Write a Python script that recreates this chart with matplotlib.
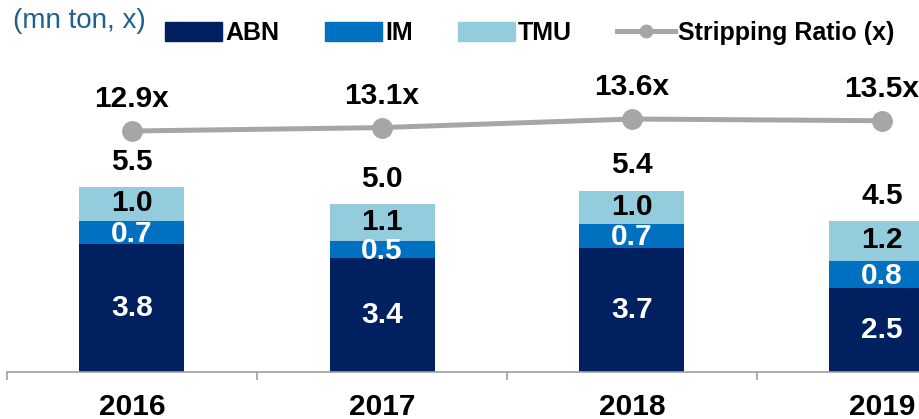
import numpy as np
import matplotlib.pyplot as plt
from matplotlib.lines import Line2D
from matplotlib.patches import Patch

plt.rcParams['font.family'] = ['Liberation Sans', 'DejaVu Sans']

years = ['2016', '2017', '2018', '2019']
abn = [3.8, 3.4, 3.7, 2.5]
im = [0.7, 0.5, 0.7, 0.8]
tmu = [1.0, 1.1, 1.0, 1.2]
totals = [5.5, 5.0, 5.4, 4.5]
strip_ratio = [12.9, 13.1, 13.6, 13.5]

c_abn = '#002060'
c_im = '#0070C0'
c_tmu = '#93CDDD'
c_line = '#A6A6A6'
fs = 21.5

W, H = 920, 419
fig = plt.figure(figsize=(W / 100, H / 100), dpi=100)
ax = fig.add_axes([7 / W, 47 / H, 913 / W, 332 / H])
x = np.arange(len(years))
bw = 0.42

ax.bar(x, abn, bw, color=c_abn, label='ABN', zorder=2)
ax.bar(x, im, bw, bottom=abn, color=c_im, label='IM', zorder=2)
bot2 = np.array(abn) + np.array(im)
ax.bar(x, tmu, bw, bottom=bot2, color=c_tmu, label='TMU', zorder=2)

for i in range(len(years)):
    ax.text(x[i], abn[i] / 2, f'{abn[i]:.1f}', ha='center', va='center',
            color='white', fontsize=fs, fontweight='bold')
    ax.text(x[i], abn[i] + im[i] / 2 - 0.04, f'{im[i]:.1f}', ha='center', va='center',
            color='white', fontsize=fs, fontweight='bold')
    ax.text(x[i], bot2[i] + tmu[i] / 2 + 0.02, f'{tmu[i]:.1f}', ha='center', va='center',
            color='black', fontsize=fs, fontweight='bold')
    ax.text(x[i], totals[i] + 0.75, f'{totals[i]:.1f}', ha='center', va='center',
            color='black', fontsize=fs, fontweight='bold')

ax.set_xlim(-0.5, 3.152)
ax.set_ylim(0, 9.88)
for s in ['top', 'right', 'left']:
    ax.spines[s].set_visible(False)
ax.spines['bottom'].set_color('#A0A0A0')
ax.spines['bottom'].set_linewidth(1.2)
ax.set_yticks([])
ax.set_xticks(x)
ax.set_xticklabels(years, fontsize=fs, fontweight='bold')
ax.tick_params(axis='x', which='major', length=0, pad=15)
ax.set_xticks([-0.5, 0.5, 1.5, 2.5], minor=True)
ax.tick_params(axis='x', which='minor', length=6, width=1.2, color='#A0A0A0')

ax2 = ax.twinx()
ax2.set_ylim(-1.16, 18.21)
ax2.plot(x, strip_ratio, color=c_line, lw=3.6, marker='o', ms=14, zorder=3)
for i in range(len(years)):
    ax2.text(x[i], strip_ratio[i] + 1.85, f'{strip_ratio[i]:.1f}x', ha='center', va='center',
             color='black', fontsize=fs, fontweight='bold')
ax2.axis('off')

fig.text(13 / W, 1 - 21 / H, '(mn ton, x)', color='#1F6090', fontsize=20, ha='left', va='center')

handles = [Patch(color=c_abn), Patch(color=c_im), Patch(color=c_tmu),
           Line2D([], [], color=c_line, lw=3.6, marker='o', ms=9)]
labels = ['ABN', 'IM', 'TMU', 'Stripping Ratio (x)']
leg = fig.legend(handles, labels, loc='center left', bbox_to_anchor=(165 / W, 1 - 33 / H),
                 ncol=4, frameon=False, handlelength=2.3, handleheight=0.78,
                 handletextpad=0.12, columnspacing=1.8, borderaxespad=0, borderpad=0,
                 prop={'size': 18, 'weight': 'bold'})

fig.savefig('out.png', dpi=100)
